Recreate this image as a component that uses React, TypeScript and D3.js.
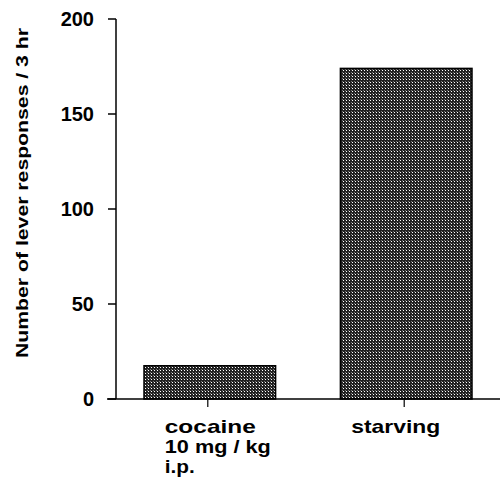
import React from "react";
import * as d3 from "d3";

const categories = ["cocaine", "starving"];
const categoryLines = [["cocaine", "10 mg / kg", "i.p."], ["starving"]];
const values = [17.5, 174];
const yTicks = [0, 50, 100, 150, 200];
const yLabel = "Number of lever responses / 3 hr";

export default function App() {
  const W = 500, H = 485;
  const y = d3.scaleLinear().domain([0, 200]).range([399, 19]);
  const x = d3.scaleBand().domain(categories).range([144, 472]).paddingInner(0.33).paddingOuter(0);
  const axisX = 116;
  const font = "'Liberation Sans', Arial, Helvetica, sans-serif";
  const labelOffset = [-43, -53];
  const labelLen = [[91, 106, 30], [89]];
  return (
    <svg width={W} height={H} style={{ position: "absolute", left: 0, top: 0 }}>
      <defs>
        <pattern id="stip" width="3" height="3" patternUnits="userSpaceOnUse">
          <rect width="3" height="3" fill="#222" />
          <rect x="1" y="1" width="1" height="1" fill="#ffffff" />
          <rect x="0" y="0" width="1" height="1" fill="#777" />
        </pattern>
      </defs>
      <rect width={W} height={H} fill="#fff" />
      {categories.map((c, i) => {
        const bx = x(c)!;
        const bw = x.bandwidth();
        const y0 = y(0), y1 = y(values[i]);
        return (
          <rect key={c} x={bx} y={y1} width={bw} height={y0 - y1} fill="url(#stip)" stroke="#000" strokeWidth={1.5} />
        );
      })}
      <line x1={107} x2={500} y1={y(0)} y2={y(0)} stroke="#000" strokeWidth={1.5} />
      <line x1={axisX} x2={axisX} y1={y(200)} y2={y(0)} stroke="#000" strokeWidth={1.5} />
      {yTicks.map((t) => (
        <g key={t}>
          <line x1={axisX - 8} x2={axisX} y1={y(t)} y2={y(t)} stroke="#000" strokeWidth={1.5} />
          <text x={94} y={y(t) + 7} textAnchor="end" fontFamily={font} fontWeight="bold" fontSize={20} fill="#000">
            {t}
          </text>
        </g>
      ))}
      {categories.map((c, i) => {
        const cx = x(c)! + x.bandwidth() / 2 - 2;
        return (
          <g key={c}>
            <line x1={cx} x2={cx} y1={y(0)} y2={y(0) + 8} stroke="#000" strokeWidth={1.2} />
            {categoryLines[i].map((ln, j) => (
              <text
                key={j}
                x={cx + labelOffset[i]}
                y={433 + j * 20}
                fontFamily={font}
                fontWeight="bold"
                fontSize={19}
                fill="#000"
                textLength={labelLen[i][j]}
                lengthAdjust="spacingAndGlyphs"
              >
                {ln}
              </text>
            ))}
          </g>
        );
      })}
      <text
        transform={`translate(28, 193) rotate(-90)`}
        textAnchor="middle"
        fontFamily={font}
        fontWeight="bold"
        fontSize={17}
        fill="#000"
        textLength={330}
        lengthAdjust="spacingAndGlyphs"
      >
        {yLabel}
      </text>
    </svg>
  );
}
